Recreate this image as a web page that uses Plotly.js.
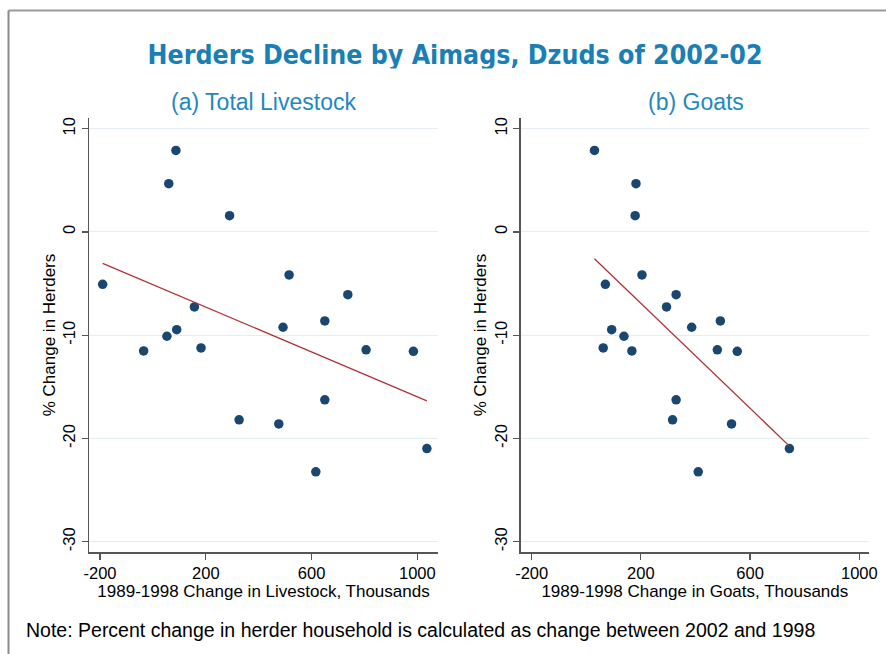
<!DOCTYPE html>
<html><head><meta charset="utf-8">
<script src="https://cdn.plot.ly/plotly-3.0.1.min.js"></script>
<style>html,body{margin:0;padding:0;background:#fff}</style>
</head><body><div id="chart" style="width:886px;height:654px"></div>
<script>
// Percent change in herders (2002 vs 1998), one value per aimag
const herdersChange = [-5.07, 4.68, 7.9, 1.58, -4.16, -6.07, -7.26, -8.62, -9.23, -9.46,
  -10.1, -11.52, -11.23, -11.42, -11.56, -16.26, -18.2, -18.59, -23.23, -20.98];
// 1989-1998 change in total livestock, thousands
const livestockChange = [-190, 60, 87, 290, 515, 737, 157, 650, 492, 90,
  53, -35, 182, 806, 985, 650, 326, 476, 616, 1036];
// 1989-1998 change in goats, thousands
const goatsChange = [70, 182, 30, 179, 204, 329, 294, 491, 386, 93,
  138, 167, 62, 480, 553, 329, 316, 532, 410, 744];
const xTicks = [-200, 200, 600, 1000];
const yTicks = [-30, -20, -10, 0, 10];

function olsLine(xs, ys) {
  const n = xs.length;
  const mx = xs.reduce((a, b) => a + b, 0) / n;
  const my = ys.reduce((a, b) => a + b, 0) / n;
  let sxy = 0, sxx = 0;
  for (let i = 0; i < n; i++) { sxy += (xs[i] - mx) * (ys[i] - my); sxx += (xs[i] - mx) ** 2; }
  const b = sxy / sxx, a = my - b * mx;
  const x0 = Math.min(...xs), x1 = Math.max(...xs);
  return { x: [x0, x1], y: [a + b * x0, a + b * x1] };
}

const markerColor = '#1a476f';
const lineColor = '#b0323a';
const fitL = olsLine(livestockChange, herdersChange);
const fitG = olsLine(goatsChange, herdersChange);

const traces = [
  { type: 'scatter', mode: 'markers', x: livestockChange, y: herdersChange, xaxis: 'x', yaxis: 'y',
    marker: { color: markerColor, size: 9.5 } },
  { type: 'scatter', mode: 'lines', x: fitL.x, y: fitL.y, xaxis: 'x', yaxis: 'y',
    line: { color: lineColor, width: 1.3 } },
  { type: 'scatter', mode: 'markers', x: goatsChange, y: herdersChange, xaxis: 'x2', yaxis: 'y2',
    marker: { color: markerColor, size: 9.5 } },
  { type: 'scatter', mode: 'lines', x: fitG.x, y: fitG.y, xaxis: 'x2', yaxis: 'y2',
    line: { color: lineColor, width: 1.3 } }
];

const W = 886, H = 654;
const axisFont = { family: 'Liberation Sans, Arial, sans-serif', size: 16.5, color: '#000' };
const titleFont = { family: 'Liberation Sans, Arial, sans-serif', size: 17, color: '#000' };
function xa(domain, range, title) {
  return { domain: domain, range: range, tickmode: 'array', tickvals: xTicks, ticktext: xTicks.map(String),
    ticks: 'outside', ticklen: 6, tickcolor: '#555', tickwidth: 1.2, showline: true, linecolor: '#555', linewidth: 1.5,
    showgrid: false, zeroline: false, tickfont: axisFont, title: { text: title, font: titleFont, standoff: 2 } };
}
function ya(domain, anchor) {
  return { domain: domain, range: [-31.0, 11.04], tickmode: 'array', tickvals: yTicks, ticktext: yTicks.map(String),
    ticks: 'outside', ticklen: 6, tickcolor: '#555', tickwidth: 1.2, showline: true, linecolor: '#555', linewidth: 1.5,
    showgrid: true, gridcolor: '#e3eef0', gridwidth: 1, zeroline: false, tickangle: -90, tickfont: axisFont,
    anchor: anchor, title: { text: '% Change in Herders', font: titleFont, standoff: 0 } };
}
const yDom = [1 - 552 / H, 1 - 118 / H];

const layout = {
  width: W, height: H, margin: { l: 0, r: 0, t: 0, b: 0 },
  paper_bgcolor: '#fff', plot_bgcolor: '#fff', showlegend: false,
  title: { text: '<b>Herders Decline by Aimags, Dzuds of 2002-02</b>', x: 455 / W, xanchor: 'center',
    y: 1 - 55 / H, yanchor: 'middle', yref: 'container',
    font: { family: 'Liberation Sans Narrow, Arial Narrow, DejaVu Sans Condensed, sans-serif', size: 26.5, color: '#1a7fb4' } },
  xaxis: xa([89 / W, 438 / W], [-241.6, 1078], '1989-1998 Change in Livestock, Thousands'),
  yaxis: ya(yDom, 'x'),
  xaxis2: Object.assign(xa([520.7 / W, 869 / W], [-240.2, 1035.5], '1989-1998 Change in Goats, Thousands'), { anchor: 'y2' }),
  yaxis2: ya(yDom, 'x2'),
  annotations: [
    { text: ' ', xref: 'paper', yref: 'paper', x: 455 / W, y: 1 - 67.5 / H, xanchor: 'center', yanchor: 'top',
      showarrow: false, width: 660, height: 10, bgcolor: '#fff', borderpad: 0, font: { size: 6 } },
    { text: '(a) Total Livestock', xref: 'paper', yref: 'paper', x: 263 / W, y: 1 - 102 / H,
      xanchor: 'center', yanchor: 'middle', showarrow: false,
      font: { family: 'Liberation Sans, Arial, sans-serif', size: 23, color: '#1f88bf' } },
    { text: '(b) Goats', xref: 'paper', yref: 'paper', x: 696 / W, y: 1 - 102 / H,
      xanchor: 'center', yanchor: 'middle', showarrow: false,
      font: { family: 'Liberation Sans, Arial, sans-serif', size: 23, color: '#1f88bf' } },
    { text: 'Note: Percent change in herder household is calculated as change between 2002 and 1998',
      xref: 'paper', yref: 'paper', x: 24 / W, y: 1 - 630 / H, xanchor: 'left', yanchor: 'middle', showarrow: false,
      font: { family: 'Liberation Sans, Arial, sans-serif', size: 19.5, color: '#000' } }
  ],
  shapes: [
    { type: 'line', xref: 'paper', yref: 'paper', x0: 8.5 / W, x1: 1.05, y0: 1 - 10.5 / H, y1: 1 - 10.5 / H,
      line: { color: '#9a9a9a', width: 2 } },
    { type: 'line', xref: 'paper', yref: 'paper', x0: 8.5 / W, x1: 8.5 / W, y0: 1 - 10.5 / H, y1: -0.05,
      line: { color: '#8a8a8a', width: 2 } }
  ]
};

Plotly.newPlot('chart', traces, layout, { displayModeBar: false, staticPlot: true });
</script></body></html>
